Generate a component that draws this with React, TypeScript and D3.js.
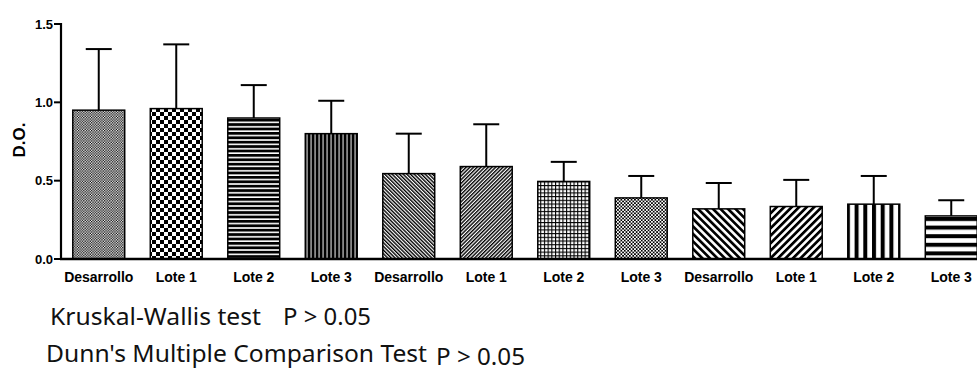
import React from "react";
import * as d3 from "d3";

const categories = [
  "Desarrollo", "Lote 1", "Lote 2", "Lote 3",
  "Desarrollo", "Lote 1", "Lote 2", "Lote 3",
  "Desarrollo", "Lote 1", "Lote 2", "Lote 3",
];
const means = [0.95, 0.96, 0.9, 0.8, 0.545, 0.59, 0.495, 0.39, 0.32, 0.335, 0.35, 0.275];
const sds = [0.39, 0.41, 0.21, 0.21, 0.255, 0.27, 0.125, 0.14, 0.165, 0.17, 0.18, 0.1];
const yTicks = [0, 0.5, 1.0, 1.5];
const yTickLabels = ["0.0", "0.5", "1.0", "1.5"];
const yLabel = "D.O.";
const statNames = ["Kruskal-Wallis test", "Dunn's Multiple Comparison Test"];
const statPs = ["P > 0.05", "P > 0.05"];

const W = 977;
const H = 372;

function Patterns() {
  return (
    <defs>
      <pattern id="p0" patternUnits="userSpaceOnUse" width={2.6} height={2.6}>
        <rect width={2.6} height={2.6} fill="#fff" />
        <rect x={0} y={0} width={1.3} height={1.3} fill="#000" />
        <rect x={1.3} y={1.3} width={1.3} height={1.3} fill="#000" />
      </pattern>
      <pattern id="p1" patternUnits="userSpaceOnUse" width={8} height={8}>
        <rect width={8} height={8} fill="#fff" />
        <rect x={0} y={0} width={4} height={4} fill="#000" />
        <rect x={4} y={4} width={4} height={4} fill="#000" />
      </pattern>
      <pattern id="p2" patternUnits="userSpaceOnUse" width={4} height={4.4}>
        <rect width={4} height={4.4} fill="#fff" />
        <rect x={0} y={0} width={4} height={2.8} fill="#000" />
      </pattern>
      <pattern id="p3" patternUnits="userSpaceOnUse" width={4} height={4}>
        <rect width={4} height={4} fill="#888" />
        <rect x={0} y={0} width={2.2} height={4} fill="#000" />
      </pattern>
      <pattern id="p4" patternUnits="userSpaceOnUse" width={2.6} height={4} patternTransform="rotate(-45)">
        <rect width={2.6} height={4} fill="#fff" />
        <rect x={0} y={0} width={1.4} height={4} fill="#000" />
      </pattern>
      <pattern id="p5" patternUnits="userSpaceOnUse" width={2.6} height={4} patternTransform="rotate(45)">
        <rect width={2.6} height={4} fill="#fff" />
        <rect x={0} y={0} width={1.4} height={4} fill="#000" />
      </pattern>
      <pattern id="p6" patternUnits="userSpaceOnUse" width={3.7} height={3.7}>
        <rect width={3.7} height={3.7} fill="#fff" />
        <rect x={0} y={0} width={3.7} height={1.1} fill="#000" />
        <rect x={0} y={0} width={1.1} height={3.7} fill="#000" />
      </pattern>
      <pattern id="p7" patternUnits="userSpaceOnUse" width={3.4} height={3.4}>
        <rect width={3.4} height={3.4} fill="#fff" />
        <rect x={0} y={0} width={1.7} height={1.7} fill="#000" />
        <rect x={1.7} y={1.7} width={1.7} height={1.7} fill="#000" />
      </pattern>
      <pattern id="p8" patternUnits="userSpaceOnUse" width={5.3} height={6} patternTransform="rotate(-45)">
        <rect width={5.3} height={6} fill="#fff" />
        <rect x={0} y={0} width={2.7} height={6} fill="#000" />
      </pattern>
      <pattern id="p9" patternUnits="userSpaceOnUse" width={5.3} height={6} patternTransform="rotate(45)">
        <rect width={5.3} height={6} fill="#fff" />
        <rect x={0} y={0} width={2.7} height={6} fill="#000" />
      </pattern>
      <pattern id="p10" patternUnits="userSpaceOnUse" width={8.7} height={8} x={2}>
        <rect width={8.7} height={8} fill="#fff" />
        <rect x={0} y={0} width={4} height={8} fill="#000" />
      </pattern>
      <pattern id="p11" patternUnits="userSpaceOnUse" width={8} height={8.6} y={2}>
        <rect width={8} height={8.6} fill="#fff" />
        <rect x={0} y={0} width={8} height={4} fill="#000" />
      </pattern>
    </defs>
  );
}

export default function App() {
  const x0 = 61;
  const y0 = 259;
  const x = d3
    .scaleBand<number>()
    .domain(categories.map((_, i) => i))
    .range([x0 - 1, x0 - 1 + 12 * 77.5])
    .paddingInner(0.33)
    .paddingOuter(0.165);
  const y = d3.scaleLinear().domain([0, 1.5]).range([y0, 24]);
  const bw = x.bandwidth();
  const statFont = "Noto Sans, sans-serif";

  return (
    <svg
      width={W}
      height={H}
      style={{ position: "absolute", left: 0, top: 0, background: "#fff" }}
    >
      <Patterns />
      <rect width={W} height={H} fill="#fff" />
      {means.map((m, i) => {
        const bx = x(i)!;
        const top = y(m);
        const et = y(m + sds[i]);
        const cx = bx + bw / 2;
        return (
          <g key={i}>
            <line x1={cx} x2={cx} y1={top} y2={et} stroke="#000" strokeWidth={2} />
            <line x1={cx - 13} x2={cx + 13} y1={et} y2={et} stroke="#000" strokeWidth={2} />
            <rect
              x={bx}
              y={top}
              width={bw}
              height={y0 - top}
              fill={`url(#p${i})`}
              stroke="#000"
              strokeWidth={1.5}
            />
          </g>
        );
      })}
      <line x1={x0} x2={x0} y1={y(1.5) - 1} y2={y0 + 1} stroke="#000" strokeWidth={2.2} />
      {yTicks.map((t, i) => (
        <g key={t}>
          <line x1={x0 - 7} x2={x0} y1={y(t)} y2={y(t)} stroke="#000" strokeWidth={2} />
          <text
            x={x0 - 8}
            y={y(t)}
            dy="0.36em"
            textAnchor="end"
            fontFamily="Liberation Sans, Arial, sans-serif"
            fontWeight="bold"
            fontSize={13}
            fill="#000"
          >
            {yTickLabels[i]}
          </text>
        </g>
      ))}
      <line x1={x0 - 1} x2={W} y1={y0} y2={y0} stroke="#000" strokeWidth={2.6} />
      {categories.map((c, i) => (
        <text
          key={i}
          x={x(i)! + bw / 2}
          y={282}
          textAnchor="middle"
          fontFamily="Liberation Sans, Arial, sans-serif"
          fontWeight="bold"
          fontSize={14}
          fill="#000"
        >
          {c}
        </text>
      ))}
      <text
        transform={`translate(25, 140) rotate(-90)`}
        textAnchor="middle"
        fontFamily="Liberation Sans, Arial, sans-serif"
        fontWeight="bold"
        fontSize={17}
        fill="#000"
      >
        {yLabel}
      </text>
      <text x={50} y={325} fontFamily={statFont} fontSize={24} fill="#111"
        textLength={211} lengthAdjust="spacingAndGlyphs">
        {statNames[0]}
      </text>
      <text x={283} y={325} fontFamily={statFont} fontSize={24} fill="#111"
        textLength={88} lengthAdjust="spacingAndGlyphs">
        {statPs[0]}
      </text>
      <text x={46} y={362} fontFamily={statFont} fontSize={24} fill="#111"
        textLength={381} lengthAdjust="spacingAndGlyphs">
        {statNames[1]}
      </text>
      <text x={436} y={365} fontFamily={statFont} fontSize={24} fill="#111"
        textLength={89} lengthAdjust="spacingAndGlyphs">
        {statPs[1]}
      </text>
    </svg>
  );
}
